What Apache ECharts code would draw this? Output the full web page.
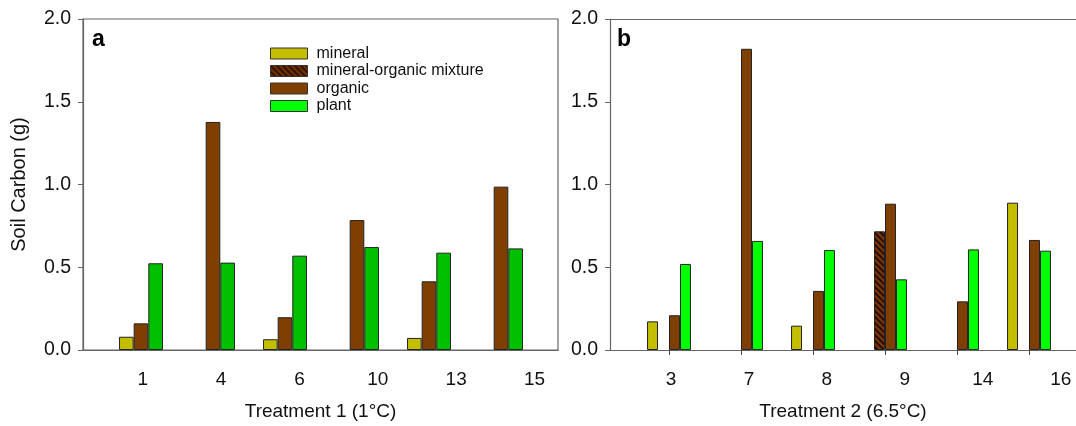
<!DOCTYPE html>
<html>
<head>
<meta charset="utf-8">
<script src="https://cdn.jsdelivr.net/npm/echarts@6/dist/echarts.min.js"></script>
<style>
html,body{margin:0;padding:0;background:#fff;}
#chart{width:1076px;height:426px;}
</style>
</head>
<body>
<div id="chart"></div>
<script>
// ---- data ----
const catsA = ['1', '4', '6', '10', '13', '15'];
const mineralA = [0.08, null, 0.065, null, 0.073, null];
const organicA = [0.161, 1.378, 0.198, 0.785, 0.415, 0.987];
const plantA = [0.524, 0.528, 0.570, 0.622, 0.588, 0.614];

const catsB = ['3', '7', '8', '9', '14', '16'];
const mineralB = [0.173, null, 0.147, null, null, 0.89];
const mixtureB = [null, null, null, 0.717, null, null];
const organicB = [0.21, 1.82, 0.357, 0.884, 0.294, 0.665];
const plantB = [0.52, 0.659, 0.604, 0.427, 0.608, 0.60];

const yMin = 0, yMax = 2.0, yStep = 0.5;
const xTitleA = 'Treatment 1 (1°C)';
const xTitleB = 'Treatment 2 (6.5°C)';
const yTitle = 'Soil Carbon (g)';
const seriesNames = ['mineral', 'mineral-organic mixture', 'organic', 'plant'];

// ---- styles ----
const FONT = '"Liberation Sans", Arial, sans-serif';
const C_MIN = '#c4be00';
const C_ORG = '#7f3f00';
const C_PLANT_A = '#00c000';
const C_PLANT_B = '#00ff00';
const AX = '#666';

function hatch() {
  const c = document.createElement('canvas');
  c.width = 6; c.height = 6;
  const g = c.getContext('2d');
  g.fillStyle = '#7a3400';
  g.fillRect(0, 0, 6, 6);
  g.strokeStyle = '#1a0a00';
  g.lineWidth = 1.6;
  g.beginPath();
  g.moveTo(-1, -1); g.lineTo(7, 7);
  g.moveTo(-1, 5); g.lineTo(1, 7);
  g.moveTo(5, -1); g.lineTo(7, 1);
  g.stroke();
  return { image: c, repeat: 'repeat' };
}
const C_MIX = hatch();

const chart = echarts.init(document.getElementById('chart'), null, { renderer: 'canvas' });

const frameY = (showName) => ({
  type: 'value', min: yMin, max: yMax, interval: yStep,
  name: showName ? yTitle : '', nameLocation: 'middle', nameGap: 54,
  nameTextStyle: { fontFamily: FONT, fontSize: 20, color: '#111' },
  axisLine: { show: true, lineStyle: { color: AX, width: 1.2 } },
  axisTick: { show: true, length: 5, lineStyle: { color: AX } },
  axisLabel: { fontFamily: FONT, fontSize: 19.5, color: '#111', margin: 12,
               formatter: v => v.toFixed(1) },
  splitLine: { show: false }
});
const hiddenY = () => ({ type: 'value', min: yMin, max: yMax, show: false, splitLine: { show: false } });
const frameX = (name) => ({
  type: 'value', min: 0, max: 1,
  name: name, nameLocation: 'middle', nameGap: 52,
  nameTextStyle: { fontFamily: FONT, fontSize: 19, color: '#111' },
  axisLine: { show: true, lineStyle: { color: AX, width: 1.2 } },
  axisTick: { show: false }, axisLabel: { show: false }, splitLine: { show: false }
});
const labelX = (cats, gap) => ({
  type: 'category', data: cats, boundaryGap: gap,
  axisLine: { show: false }, axisTick: { show: false },
  axisLabel: { fontFamily: FONT, fontSize: 19, color: '#111', margin: 20, interval: 0 }
});

const barBase = {
  type: 'bar', barGap: '0%', barCategoryGap: '39%',
  itemStyle: { borderColor: '#222', borderWidth: 1 },
  emphasis: { disabled: true }
};

const option = {
  backgroundColor: '#fff',
  animation: false,
  title: [
    { text: 'a', left: 92, top: 28, padding: 0, textStyle: { fontFamily: FONT, fontSize: 23, fontWeight: 'bold', color: '#000' } },
    { text: 'b', left: 617, top: 28, padding: 0, textStyle: { fontFamily: FONT, fontSize: 23, fontWeight: 'bold', color: '#000' } }
  ],
  legend: {
    data: seriesNames,
    orient: 'vertical', left: 270, top: 45, padding: 0,
    itemWidth: 37, itemHeight: 11, itemGap: 0.5,
    icon: 'rect',
    selectedMode: false,
    itemStyle: { borderColor: '#333', borderWidth: 1 },
    textStyle: { fontFamily: FONT, fontSize: 16, color: '#111', lineHeight: 17, padding: [0, 0, 0, 4] }
  },
  grid: [
    { left: 83, right: 518, top: 19, bottom: 76, show: true, borderColor: AX, borderWidth: 1.2, backgroundColor: 'transparent' },
    { left: 105, right: 539, top: 19, bottom: 76 },
    { left: 103.6, right: 502.3, top: 19, bottom: 76 },
    { left: 610, right: 0, top: 19, bottom: 76 },
    { left: 633, right: 11, top: 19, bottom: 76 },
    { left: 671, right: 15.3, top: 19, bottom: 76 }
  ],
  xAxis: [
    Object.assign(frameX(xTitleA), { gridIndex: 0 }),
    { gridIndex: 1, type: 'category', data: catsA, show: false },
    Object.assign(labelX(catsA, true), { gridIndex: 2 }),
    Object.assign(frameX(xTitleB), { gridIndex: 3 }),
    { gridIndex: 4, type: 'category', data: catsB,
      axisLine: { show: false },
      axisTick: { show: true, alignWithLabel: true, length: 5, interval: 0, lineStyle: { color: '#444' } },
      axisLabel: { show: false } },
    Object.assign(labelX(catsB, false), { gridIndex: 5 }),
    { gridIndex: 3, type: 'value', min: 0, max: 1, position: 'top',
      axisLine: { show: true, lineStyle: { color: AX, width: 1.2 } },
      axisTick: { show: false }, axisLabel: { show: false }, splitLine: { show: false } }
  ],
  yAxis: [
    Object.assign(frameY(true), { gridIndex: 0 }),
    Object.assign(hiddenY(), { gridIndex: 1 }),
    Object.assign(hiddenY(), { gridIndex: 2 }),
    Object.assign(frameY(false), { gridIndex: 3 }),
    Object.assign(hiddenY(), { gridIndex: 4 }),
    Object.assign(hiddenY(), { gridIndex: 5 })
  ],
  series: [
    // panel b (listed first so legend picks its colours)
    Object.assign({}, barBase, { name: seriesNames[0], xAxisIndex: 4, yAxisIndex: 4, data: mineralB, itemStyle: Object.assign({}, barBase.itemStyle, { color: C_MIN }) }),
    Object.assign({}, barBase, { name: seriesNames[1], xAxisIndex: 4, yAxisIndex: 4, data: mixtureB, itemStyle: Object.assign({}, barBase.itemStyle, { color: C_MIX }) }),
    Object.assign({}, barBase, { name: seriesNames[2], xAxisIndex: 4, yAxisIndex: 4, data: organicB, itemStyle: Object.assign({}, barBase.itemStyle, { color: C_ORG }) }),
    Object.assign({}, barBase, { name: seriesNames[3], xAxisIndex: 4, yAxisIndex: 4, data: plantB, itemStyle: Object.assign({}, barBase.itemStyle, { color: C_PLANT_B }) }),
    // panel a
    Object.assign({}, barBase, { name: seriesNames[0], xAxisIndex: 1, yAxisIndex: 1, data: mineralA, itemStyle: Object.assign({}, barBase.itemStyle, { color: C_MIN }) }),
    Object.assign({}, barBase, { name: seriesNames[2], xAxisIndex: 1, yAxisIndex: 1, data: organicA, itemStyle: Object.assign({}, barBase.itemStyle, { color: C_ORG }) }),
    Object.assign({}, barBase, { name: seriesNames[3], xAxisIndex: 1, yAxisIndex: 1, data: plantA, itemStyle: Object.assign({}, barBase.itemStyle, { color: C_PLANT_A }) })
  ]
};
chart.setOption(option);
</script>
</body>
</html>
